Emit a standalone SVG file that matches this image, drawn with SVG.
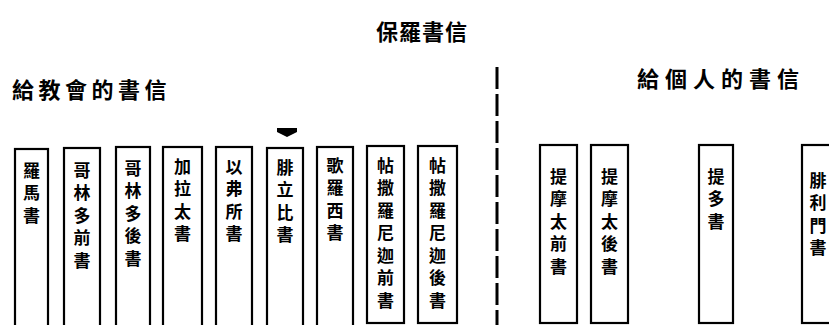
<svg xmlns="http://www.w3.org/2000/svg" width="829" height="325" viewBox="0 0 829 325">
<style>
.bg{fill:#fff}
.box{fill:#fff;stroke:#000;stroke-width:2.2}
.lbl{font-family:"Noto Sans CJK TC","Noto Sans CJK SC",sans-serif;font-size:17px;font-weight:bold;fill:#000;writing-mode:vertical-rl;text-orientation:upright;letter-spacing:5.5px}
.head{font-family:"Noto Sans CJK TC","Noto Sans CJK SC",sans-serif;font-size:22px;font-weight:bold;fill:#000}
.div{stroke:#000;stroke-width:3;stroke-dasharray:22 5;fill:none}
</style>
<rect class="bg" x="0" y="0" width="829" height="325"/>
<g id="title"><text class="head" x="376" y="40" letter-spacing="1">保羅書信</text></g>
<g id="group-church"><text class="head" x="12" y="98" letter-spacing="4.5">給教會的書信</text></g>
<g id="group-personal"><text class="head" x="637" y="87" letter-spacing="6">給個人的書信</text></g>
<g id="connectors">
<line class="div" x1="497" y1="67" x2="497" y2="325"/>
<path d="M277,128 L297,128 L297,132 L287,137 L277,132 Z" fill="#000"/>
</g>
<g id="n1"><rect class="box" x="15" y="149" width="33" height="190"/><text class="lbl" x="31.5" y="162">羅馬書</text></g>
<g id="n2"><rect class="box" x="64" y="148" width="36" height="190"/><text class="lbl" x="82" y="162">哥林多前書</text></g>
<g id="n3"><rect class="box" x="116" y="147" width="34" height="190"/><text class="lbl" x="133" y="160">哥林多後書</text></g>
<g id="n4"><rect class="box" x="163" y="147" width="39" height="190"/><text class="lbl" x="182.5" y="158">加拉太書</text></g>
<g id="n5"><rect class="box" x="216" y="147" width="36" height="190"/><text class="lbl" x="234" y="158">以弗所書</text></g>
<g id="n6"><rect class="box" x="267" y="148" width="36" height="190"/><text class="lbl" x="285" y="159">腓立比書</text></g>
<g id="n7"><rect class="box" x="317" y="147" width="36" height="190"/><text class="lbl" x="335" y="157">歌羅西書</text></g>
<g id="n8"><rect class="box" x="367" y="146" width="37" height="177"/><text class="lbl" x="385.5" y="157">帖撒羅尼迦前書</text></g>
<g id="n9"><rect class="box" x="418" y="146" width="39" height="177"/><text class="lbl" x="437.5" y="157">帖撒羅尼迦後書</text></g>
<g id="n10"><rect class="box" x="540" y="145" width="37" height="178"/><text class="lbl" x="558.5" y="168">提摩太前書</text></g>
<g id="n11"><rect class="box" x="591" y="145" width="37" height="178"/><text class="lbl" x="609.5" y="168">提摩太後書</text></g>
<g id="n12"><rect class="box" x="699" y="145" width="34" height="178"/><text class="lbl" x="716" y="168">提多書</text></g>
<g id="n13"><rect class="box" x="802" y="145" width="38" height="178"/><text class="lbl" x="818" y="172">腓利門書</text></g>
</svg>
